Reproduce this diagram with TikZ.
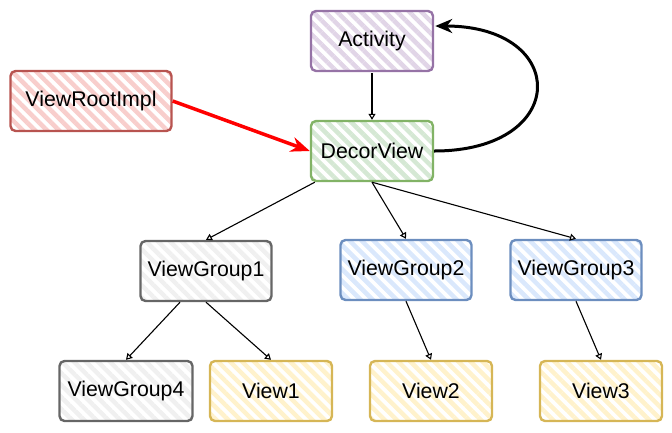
\documentclass[tikz,border=0pt]{standalone}
\usepackage{fontspec}
\setmainfont{Liberation Sans}
\usepackage{tikz}
\usetikzlibrary{arrows.meta,patterns.meta}

\definecolor{actline}{HTML}{9673A6}
\definecolor{actfill}{HTML}{E1D5E7}
\definecolor{rootline}{HTML}{B85450}
\definecolor{rootfill}{HTML}{F8CECC}
\definecolor{decorline}{HTML}{82B366}
\definecolor{decorfill}{HTML}{D5E8D4}
\definecolor{greyline}{HTML}{666666}
\definecolor{greyfill}{HTML}{F0F0F0}
\definecolor{blueline}{HTML}{6C8EBF}
\definecolor{bluefill}{HTML}{DAE8FC}
\definecolor{viewline}{HTML}{D6B656}
\definecolor{viewfill}{HTML}{FFF2CC}

\begin{document}
\begin{tikzpicture}[x=1pt,y=-1pt,>=latex,
  font=\fontsize{21.3}{26}\selectfont,
  box/.style={draw,rounded corners=5pt,line width=2.4pt,minimum width=122pt,minimum height=60pt,
    inner sep=0pt,pattern={Lines[angle=-45,distance=8.5pt,line width=4.5pt]}},
  actbox/.style={box,draw=actline,pattern color=actfill},
  rootbox/.style={box,draw=rootline,pattern color=rootfill},
  decorbox/.style={box,draw=decorline,pattern color=decorfill},
  greybox/.style={box,draw=greyline,pattern color=greyfill},
  bluebox/.style={box,draw=blueline,pattern color=bluefill},
  viewbox/.style={box,draw=viewline,pattern color=viewfill},
  link/.style={line width=1.1pt,-{Triangle[open,length=6pt,width=7pt]}}]

\useasboundingbox (0,0) rectangle (672,432);

\node[actbox] (activity) at (372,41) {Activity};
\node[rootbox,minimum width=161pt] (viewroot) at (91,101) {ViewRootImpl};
\node[decorbox] (decor) at (372,151) {DecorView};

\node[greybox,minimum width=131pt] (vg1) at (206,271) {ViewGroup1};
\node[bluebox,minimum width=131pt] (vg2) at (406,270) {ViewGroup2};
\node[bluebox,minimum width=131pt] (vg3) at (576,270) {ViewGroup3};

\node[greybox,minimum width=133pt] (vg4) at (126,391) {ViewGroup4};
\node[viewbox] (view1) at (271,391) {View1};
\node[viewbox] (view2) at (431,391) {View2};
\node[viewbox] (view3) at (601,391) {View3};

% oben
\draw[link] (activity.south) -- (decor.north);
\draw[line width=3.5pt,red,-{Stealth[length=19pt,width=15pt]}] (viewroot.east) -- (decor.west);
\draw[line width=3pt,-{Stealth[length=17pt,width=14pt]}] (decor.east)
  .. controls (570,151) and (570,26) .. ([yshift=15pt]activity.east);

% DecorView
\draw[link] ([xshift=5pt]decor.south west) -- (vg1.north);
\draw[link] (decor.south) -- (vg2.north);
\draw[link] (decor.south) -- (vg3.north);

% ViewGroups
\draw[link] ([xshift=-26pt]vg1.south) -- (vg4.north);
\draw[link] (vg1.south) -- (view1.north);
\draw[link] (vg2.south) -- (view2.north);
\draw[link] (vg3.south) -- (view3.north);

\end{tikzpicture}
\end{document}
